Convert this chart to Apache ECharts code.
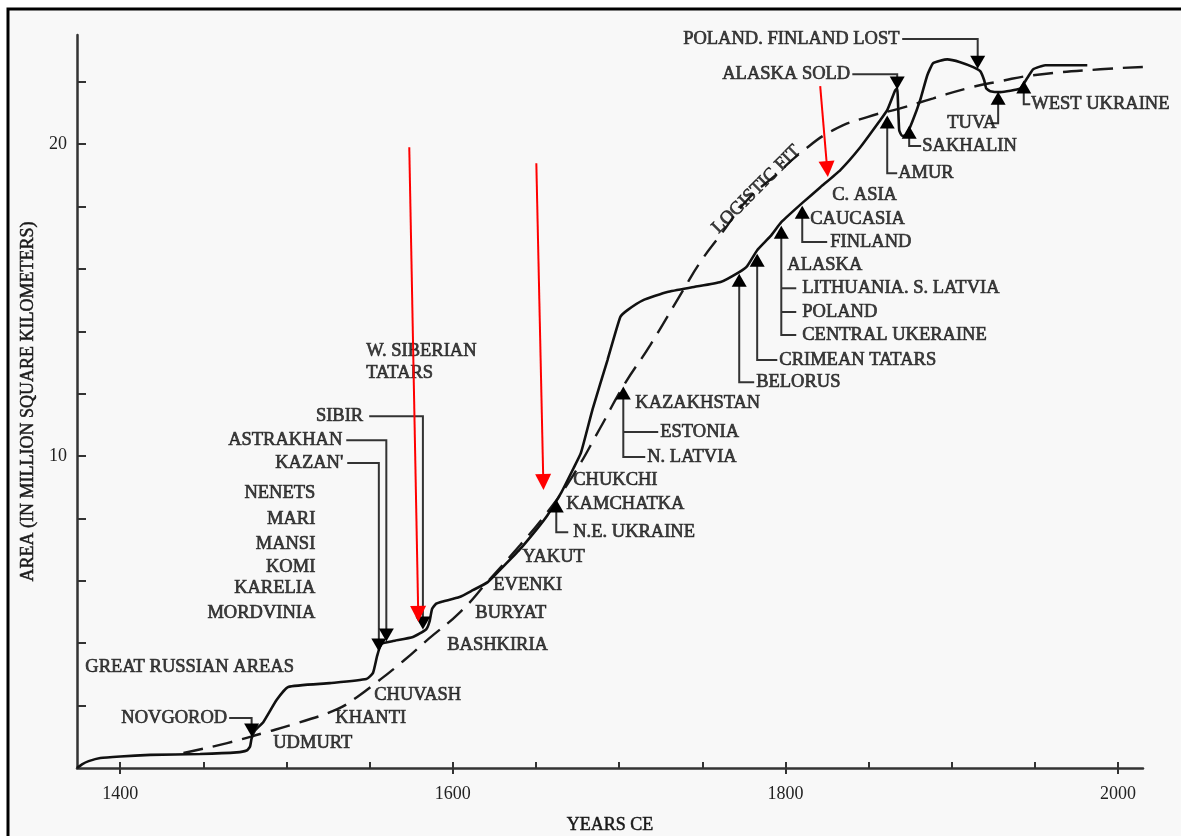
<!DOCTYPE html>
<html lang="en">
<head>
<meta charset="UTF-8">
<title>Territorial growth of Russia</title>
<script src="https://cdn.jsdelivr.net/npm/echarts@6/dist/echarts.min.js"></script>
<style>
    * { margin: 0; padding: 0; }
    html, body { width: 100%; height: 100%; background: #fff; }
    #main { width: 1181px; height: 836px; }
</style>
</head>
<body>
<div id="main"></div>
<script>
    // area of the state, million km2
    var areaYears = [1374, 1377, 1381, 1388, 1400, 1418, 1448, 1470, 1476, 1478, 1479, 1481, 1486, 1494, 1501,
        1526, 1548, 1552, 1554.5, 1557, 1564, 1576, 1584, 1586, 1587.5, 1590, 1594, 1604, 1612, 1621, 1630,
        1640, 1651, 1657, 1665, 1672, 1677, 1684, 1693, 1700.7, 1705, 1714.5, 1729, 1745, 1761, 1772.2, 1777,
        1783, 1791, 1797.5, 1810, 1821, 1833, 1845, 1857, 1861.2, 1866, 1867.2, 1868.4, 1870.2, 1872.6, 1876.2,
        1881, 1885.3, 1888.9, 1897.3, 1905.1, 1912.9, 1917.1, 1919.5, 1920.7, 1923.1, 1929.2, 1941.2, 1945.4,
        1949, 1956.2, 1981.5];
    var areaValues = [0, 0.12, 0.22, 0.32, 0.37, 0.42, 0.45, 0.5, 0.56, 0.68, 0.95, 1.2, 1.47, 2.18, 2.6,
        2.72, 2.85, 3.05, 3.6, 3.98, 4.07, 4.2, 4.45, 4.7, 5.1, 5.27, 5.34, 5.48, 5.7, 5.96, 6.44,
        6.99, 7.69, 8.11, 8.81, 9.55, 10.1, 11.5, 13.08, 14.46, 14.68, 15.0, 15.26, 15.42, 15.58, 15.9, 16.09,
        16.6, 17.05, 17.5, 18.11, 18.62, 19.17, 19.9, 20.77, 21.09, 21.73, 21.79, 20.45, 20.26, 20.29, 20.71,
        21.41, 22.21, 22.6, 22.72, 22.63, 22.47, 22.34, 22.05, 21.79, 21.7, 21.67, 21.79, 22.12,
        22.4, 22.53, 22.53];

    // logistic fit (dashed)
    var fitYears = [1438, 1464.3, 1486, 1506.4, 1530.5, 1542.5, 1554.5, 1570.2, 1585.2, 1604.4, 1620.7, 1640.5,
        1656.8, 1672.4, 1688.6, 1702.5, 1718.7, 1738.5, 1748.8, 1760.8, 1777, 1793.9, 1808.9, 1828.7, 1849.2,
        1869, 1888.9, 1909.3, 1929.2, 1949, 1989.3, 2027];
    var fitValues = [0.48, 0.8, 1.12, 1.44, 1.89, 2.28, 2.76, 3.43, 4.13, 5.0, 5.96, 7.15,
        8.2, 9.39, 10.9, 12.24, 13.56, 15.32, 16.22, 17.08, 18.21, 19.0, 19.71, 20.45, 20.87,
        21.15, 21.47, 21.79, 22.02, 22.21, 22.4, 22.5];

    var xTicks = [1400, 1450, 1500, 1550, 1600, 1650, 1700, 1750, 1800, 1850, 1900, 1950, 2000];
    var xLabels = [1400, 1600, 1800, 2000];
    var yTicks = [2, 4, 6, 8, 10, 12, 14, 16, 18, 20, 22];
    var yLabels = [10, 20];

    // annotation texts: [text, year, area] anchored at left or right edge
    var notesLeft = [
        ['GREAT RUSSIAN AREAS', 1379, 3.24], ['UDMURT', 1492, 0.8], ['KHANTI', 1529.3, 1.6],
        ['CHUVASH', 1552.7, 2.34], ['BASHKIRIA', 1596.6, 3.94], ['BURYAT', 1613.5, 4.97],
        ['EVENKI', 1624.3, 5.87], ['YAKUT', 1641.7, 6.76], ['N.E. UKRAINE', 1672.4, 7.56],
        ['KAMCHATKA', 1668.2, 8.46], ['CHUKCHI', 1672.4, 9.23], ['N. LATVIA', 1716.9, 9.97],
        ['ESTONIA', 1724.7, 10.77], ['KAZAKHSTAN', 1709.7, 11.7], ['W. SIBERIAN', 1547.9, 13.37],
        ['TATARS', 1547.9, 12.66], ['BELORUS', 1782.4, 12.37], ['CRIMEAN TATARS', 1796.3, 13.08],
        ['CENTRAL UKERAINE', 1810.1, 13.88], ['POLAND', 1810.1, 14.62], ['LITHUANIA. S. LATVIA', 1810.1, 15.38],
        ['ALASKA', 1801.1, 16.12], ['FINLAND', 1826.9, 16.86], ['CAUCASIA', 1814.9, 17.6],
        ['C. ASIA', 1828.1, 18.37], ['AMUR', 1867.8, 19.07], ['SAKHALIN', 1882.3, 19.94],
        ['TUVA', 1897.3, 20.67], ['WEST UKRAINE', 1947.8, 21.28], ['POLAND. FINLAND LOST', 1738.5, 23.37],
        ['ALASKA SOLD', 1762.0, 22.24]
    ];
    var notesRight = [
        ['NOVGOROD', 1464.3, 1.6], ['MORDVINIA', 1517.3, 4.97], ['KARELIA', 1517.3, 5.77],
        ['KOMI', 1517.3, 6.44], ['MANSI', 1517.3, 7.18], ['MARI', 1517.3, 7.98], ['NENETS', 1517.3, 8.81],
        ["KAZAN'", 1534.1, 9.78], ['ASTRAKHAN', 1533.5, 10.51], ['SIBIR', 1546.1, 11.28]
    ];

    // gains (pointing up) and losses / entries from above (pointing down)
    var markersDown = [[1479, 1.22], [1555.5, 3.94], [1560, 4.26], [1582, 4.65], [1867.2, 21.96], [1915.6, 22.63]];
    var markersUp = [[1662.2, 8.4], [1702.5, 12.02], [1772.2, 15.64], [1783, 16.28], [1797.5, 17.18],
        [1810.1, 17.82], [1861.2, 20.71], [1874.4, 20.38], [1927.9, 21.47], [1943.3, 21.83]];

    var leaders = [
        [[1465.5, 1.6], [1479, 1.6], [1479, 1.41]],
        [[1536.5, 9.78], [1555.5, 9.78], [1555.5, 4.1]],
        [[1535.9, 10.51], [1560, 10.51], [1560, 4.42]],
        [[1549.7, 11.28], [1582, 11.28], [1582, 4.8]],
        [[1840.2, 22.24], [1867.2, 22.24], [1867.2, 22.1]],
        [[1870.2, 23.37], [1915.6, 23.37], [1915.6, 22.8]],
        [[1662.2, 8.4], [1662.2, 7.56], [1669.4, 7.56]],
        [[1702.5, 12.02], [1702.5, 9.97], [1715.7, 9.97]],
        [[1702.5, 10.77], [1723.5, 10.77]],
        [[1772.2, 15.64], [1772.2, 12.37], [1781.2, 12.37]],
        [[1783, 16.28], [1783, 13.08], [1795.1, 13.08]],
        [[1797.5, 17.18], [1797.5, 13.88], [1806.5, 13.88]],
        [[1797.5, 15.38], [1806.5, 15.38]],
        [[1797.5, 14.62], [1806.5, 14.62]],
        [[1810.1, 17.82], [1810.1, 16.86], [1825.1, 16.86]],
        [[1861.2, 20.71], [1861.2, 19.07], [1867.2, 19.07]],
        [[1874.4, 20.38], [1874.4, 19.94], [1881.6, 19.94]],
        [[1927.9, 21.47], [1927.9, 20.67], [1923.7, 20.67]],
        [[1943.3, 21.83], [1943.3, 21.28], [1947.2, 21.28]]
    ];

    // red arrows drawn over the scan
    var redArrows = [
        [[1573.8, 19.9], [1579.2, 4.94]],
        [[1650.2, 19.39], [1654.4, 9.17]],
        [[1820.9, 21.86], [1825.1, 19.2]]
    ];

    var fitLabel = ['LOGISTIC FIT', 1782.5, 18.55];

    function pairs(xs, ys) {
        return xs.map(function (x, i) { return [x, ys[i]]; });
    }

    var textFont = {
        fontFamily: 'Liberation Serif',
        fontSize: 18.5,
        color: '#111',
        textBorderColor: '#111',
        textBorderWidth: 0.7
    };

    function noteData(list, align) {
        return list.map(function (n) {
            return {
                value: [n[1], n[2]],
                label: Object.assign({ show: true, formatter: n[0], position: 'inside', align: align, verticalAlign: 'middle' }, textFont)
            };
        });
    }

    function plain(v) {
        return String(v);
    }

    function initEchart() {
        var option = {
            animation: false,
            backgroundColor: '#fff',
            graphic: [{
                type: 'rect',
                z: -10,
                shape: { x: 8, y: 9, width: 1200, height: 900 },
                style: { fill: '#f8f8f8', stroke: '#000', lineWidth: 3 }
            }],
            grid: { left: 77, right: 38, top: 35, bottom: 68, outerBoundsMode: 'none', containLabel: false },
            xAxis: [{
                type: 'value',
                min: 1374,
                max: 2015,
                position: 'bottom',
                splitLine: { show: false },
                axisLine: { lineStyle: { color: '#333', width: 2.5 } },
                axisTick: { inside: true, length: 6, customValues: xTicks, lineStyle: { color: '#333', width: 2 } },
                axisLabel: { customValues: xLabels, formatter: plain, margin: 17, fontFamily: 'Liberation Serif', fontSize: 18, color: '#222' },
                name: 'YEARS CE',
                nameLocation: 'middle',
                nameGap: 48,
                nameTextStyle: { fontFamily: 'Liberation Serif', fontSize: 18, color: '#1a1a1a', textBorderColor: '#1a1a1a', textBorderWidth: 0.5 }
            }, {
                type: 'value',
                min: 1374,
                max: 2015,
                position: 'bottom',
                splitLine: { show: false },
                axisLine: { show: false },
                axisTick: { inside: false, length: 6, customValues: xLabels, lineStyle: { color: '#333', width: 2 } },
                axisLabel: { show: false }
            }],
            yAxis: {
                type: 'value',
                min: 0,
                max: 23.5,
                splitLine: { show: false },
                axisLine: { lineStyle: { color: '#333', width: 2.5 } },
                axisTick: { inside: true, length: 9, customValues: yTicks, lineStyle: { color: '#333', width: 2 } },
                axisLabel: { customValues: yLabels, formatter: plain, margin: 10, fontFamily: 'Liberation Serif', fontSize: 18, color: '#222' },
                name: 'AREA (IN MILLION SQUARE KILOMETERS)',
                nameLocation: 'middle',
                nameRotate: 90,
                nameGap: 40,
                nameTextStyle: { fontFamily: 'Liberation Serif', fontSize: 18, color: '#1a1a1a', textBorderColor: '#1a1a1a', textBorderWidth: 0.5 }
            },
            series: [{
                name: 'Logistic fit',
                type: 'line',
                data: pairs(fitYears, fitValues),
                smooth: true,
                clip: false,
                symbol: 'none',
                lineStyle: { color: '#1a1a1a', width: 2.4, type: [20, 10] },
                z: 2
            }, {
                name: 'Area',
                type: 'line',
                data: pairs(areaYears, areaValues),
                smooth: 0.15,
                symbol: 'none',
                lineStyle: { color: '#111', width: 2.6 },
                z: 3,
                markLine: {
                    silent: true,
                    symbol: ['none', 'triangle'],
                    symbolSize: 16,
                    label: { show: false },
                    itemStyle: { color: '#ff0000' },
                    lineStyle: { color: '#ff0000', width: 2, type: 'solid' },
                    data: redArrows.map(function (a) {
                        return [{ coord: a[0] }, { coord: a[1] }];
                    }),
                    z: 10
                }
            }, {
                name: 'Leaders',
                type: 'lines',
                coordinateSystem: 'cartesian2d',
                polyline: true,
                silent: true,
                lineStyle: { color: '#333', width: 2, opacity: 1 },
                data: leaders.map(function (l) { return { coords: l }; }),
                z: 4
            }, {
                name: 'Gains',
                type: 'scatter',
                symbol: 'triangle',
                symbolSize: [15, 13],
                itemStyle: { color: '#000', opacity: 1 },
                data: markersUp,
                z: 5
            }, {
                name: 'Losses',
                type: 'scatter',
                symbol: 'triangle',
                symbolRotate: 180,
                symbolSize: [15, 13],
                itemStyle: { color: '#000', opacity: 1 },
                data: markersDown,
                z: 5
            }, {
                name: 'Notes',
                type: 'scatter',
                symbolSize: 1,
                silent: true,
                itemStyle: { color: 'transparent' },
                data: noteData(notesLeft, 'left').concat(noteData(notesRight, 'right')).concat([{
                    value: [fitLabel[1], fitLabel[2]],
                    label: Object.assign({ show: true, formatter: fitLabel[0], position: 'inside', rotate: 45, align: 'center', verticalAlign: 'middle' }, textFont)
                }]),
                z: 6
            }]
        };
        var myChart = echarts.init(document.getElementById('main'));
        myChart.setOption(option);
    }
    initEchart();
</script>
</body>
</html>
